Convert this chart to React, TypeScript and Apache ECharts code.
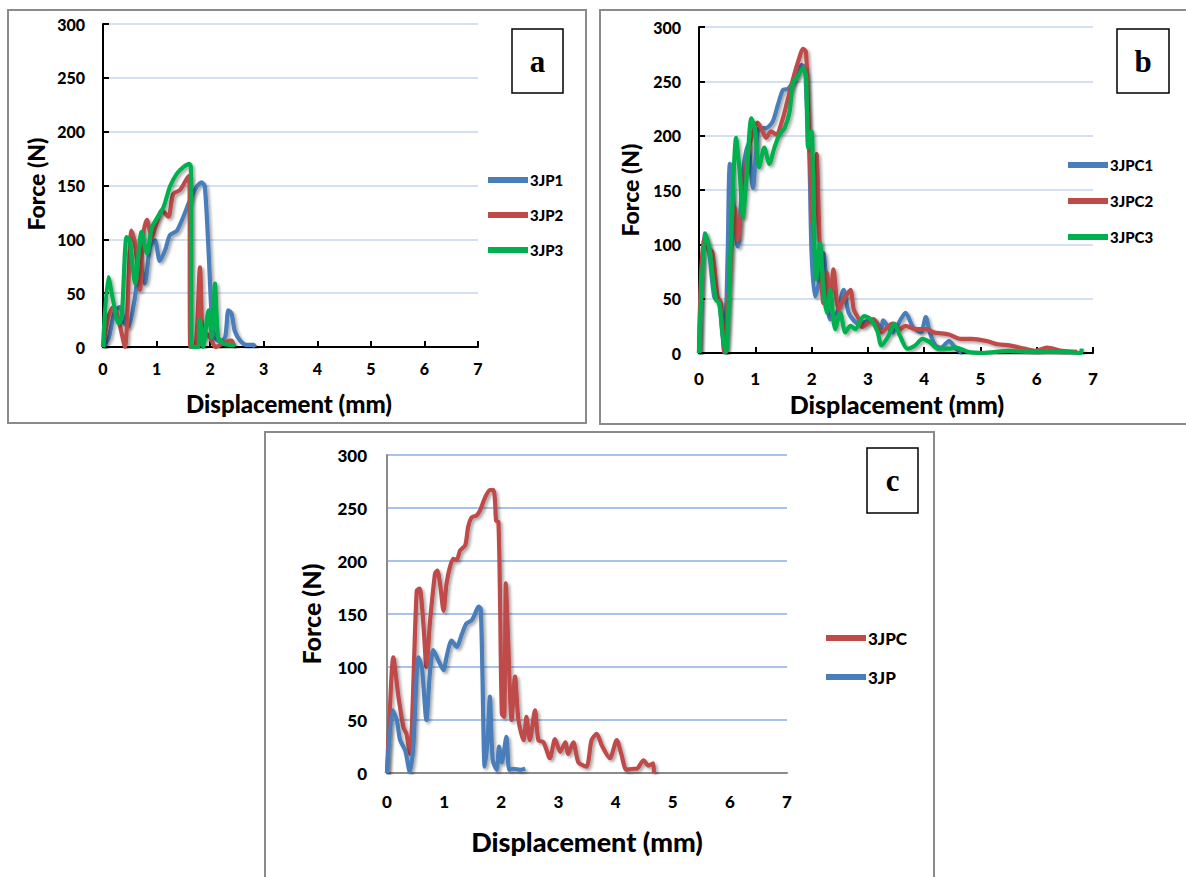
import React, { useEffect, useRef } from "react";
import * as echarts from "echarts";

// ---------- data ----------
const xTickMax = 7;
const yTickMax = 300;

// Panel a
const jp1: number[][] = [[0,0],[0.11,9],[0.22,34],[0.32,37],[0.4,22],[0.47,19],[0.59,44],[0.69,80],[0.78,59],[0.88,93],[0.97,99],[1.06,80],[1.16,90],[1.25,104],[1.38,108],[1.5,121],[1.62,136],[1.75,149],[1.84,153],[1.9,149],[1.97,90],[2.03,28],[2.09,9],[2.18,5],[2.28,9],[2.34,34],[2.4,31],[2.46,15],[2.56,6],[2.68,2],[2.81,2],[2.84,0]];
const jp2: number[][] = [[0,0],[0.1,28],[0.19,37],[0.29,25],[0.41,0],[0.53,108],[0.6,96],[0.69,53],[0.75,105],[0.82,118],[0.91,102],[1.0,115],[1.1,127],[1.22,121],[1.31,142],[1.44,146],[1.56,156],[1.61,159],[1.63,0],[1.72,0],[1.81,74],[1.87,9],[1.94,12],[2.0,9],[2.1,0],[2.3,5],[2.4,6],[2.45,0]];
const jp3: number[][] = [[0,0],[0.1,65],[0.19,43],[0.29,22],[0.35,28],[0.44,102],[0.5,99],[0.6,59],[0.72,107],[0.82,87],[0.91,111],[1.0,119],[1.13,130],[1.25,149],[1.38,161],[1.5,167],[1.61,170],[1.64,167],[1.66,0],[1.78,0],[1.81,25],[1.87,0],[1.97,34],[2.03,9],[2.09,59],[2.15,9],[2.25,3],[2.37,2],[2.46,2]];

// Panel b
const jpc1: number[][] = [[0,0],[0.09,110],[0.18,92],[0.27,52],[0.36,46],[0.45,1],[0.51,92],[0.55,174],[0.69,98],[0.78,167],[0.87,192],[0.96,152],[1.01,183],[1.07,207],[1.19,207],[1.31,213],[1.4,228],[1.49,242],[1.58,243],[1.7,252],[1.82,265],[1.88,263],[1.91,234],[1.96,183],[2.0,92],[2.06,52],[2.12,62],[2.21,92],[2.27,62],[2.33,31],[2.45,37],[2.57,58],[2.66,37],[2.83,27],[3.1,31],[3.24,22],[3.27,30],[3.44,19],[3.54,27],[3.67,37],[3.8,24],[3.94,19],[4.03,33],[4.1,19],[4.2,7],[4.3,5],[4.44,11],[4.57,4],[4.67,0]];
const jpc2: number[][] = [[0,0],[0.07,104],[0.15,98],[0.24,92],[0.33,52],[0.39,46],[0.45,1],[0.54,62],[0.63,134],[0.69,104],[0.78,152],[0.87,183],[0.96,204],[1.04,212],[1.13,204],[1.19,198],[1.28,204],[1.37,201],[1.49,216],[1.58,234],[1.67,252],[1.76,268],[1.85,280],[1.9,277],[1.94,228],[2.0,134],[2.04,107],[2.09,183],[2.15,92],[2.21,46],[2.27,74],[2.33,46],[2.39,77],[2.48,40],[2.57,49],[2.69,58],[2.75,40],[2.84,31],[2.9,24],[3.1,31],[3.24,19],[3.44,27],[3.57,22],[3.67,25],[3.84,22],[4.04,22],[4.17,19],[4.44,17],[4.64,13],[4.84,13],[5.11,11],[5.31,8],[5.51,7],[5.78,4],[5.98,2],[6.18,5],[6.45,2],[6.72,1]];
const jpc3: number[][] = [[0,0],[0.11,110],[0.18,98],[0.24,71],[0.3,49],[0.36,46],[0.42,16],[0.48,1],[0.57,107],[0.66,198],[0.72,168],[0.78,125],[0.84,158],[0.93,216],[0.99,207],[1.07,171],[1.16,189],[1.25,174],[1.34,189],[1.43,201],[1.52,207],[1.61,222],[1.67,249],[1.76,255],[1.85,262],[1.9,255],[1.94,189],[2.0,204],[2.03,152],[2.08,68],[2.15,101],[2.21,58],[2.27,37],[2.33,58],[2.42,22],[2.51,37],[2.6,19],[2.69,25],[2.78,22],[2.93,34],[3.05,31],[3.17,20],[3.24,7],[3.37,16],[3.47,27],[3.57,16],[3.7,4],[3.84,7],[3.97,13],[4.1,10],[4.24,4],[4.44,4],[4.57,5],[4.78,1],[5.04,0],[5.51,2],[5.85,1],[6.18,1],[6.52,1],[6.78,0],[6.8,4]];

// Panel c
const jpc: number[][] = [[0,0],[0.05,60],[0.11,109],[0.2,72],[0.29,43],[0.34,37],[0.4,18],[0.52,172],[0.57,174],[0.64,138],[0.69,100],[0.75,141],[0.84,188],[0.88,191],[0.93,178],[0.99,153],[1.04,178],[1.1,194],[1.16,202],[1.22,201],[1.28,210],[1.37,215],[1.42,232],[1.48,241],[1.57,243],[1.63,248],[1.71,259],[1.8,267],[1.86,267],[1.89,257],[1.91,238],[1.95,237],[1.98,157],[2.01,56],[2.05,53],[2.08,179],[2.12,125],[2.18,50],[2.24,91],[2.3,50],[2.39,31],[2.44,53],[2.5,31],[2.59,59],[2.65,31],[2.74,29],[2.85,14],[2.94,32],[3.03,20],[3.12,29],[3.17,18],[3.26,29],[3.35,10],[3.49,6],[3.58,31],[3.67,37],[3.76,26],[3.9,14],[4.02,31],[4.1,18],[4.19,3],[4.31,4],[4.37,4],[4.49,12],[4.57,7],[4.66,9],[4.67,0]];
const jp: number[][] = [[0,0],[0.1,59],[0.17,50],[0.23,31],[0.32,21],[0.4,1],[0.46,25],[0.55,109],[0.61,100],[0.69,50],[0.75,94],[0.81,116],[0.9,106],[0.99,97],[1.04,109],[1.13,125],[1.22,119],[1.31,131],[1.39,141],[1.48,144],[1.54,150],[1.6,157],[1.64,155],[1.67,94],[1.71,6],[1.76,31],[1.8,72],[1.85,12],[1.92,3],[1.96,25],[2.01,10],[2.09,34],[2.14,3],[2.21,4],[2.33,3],[2.42,4]];

const namesA = ["3JP1", "3JP2", "3JP3"];
const namesB = ["3JPC1", "3JPC2", "3JPC3"];
const namesC = ["3JPC", "3JP"];

const BLUE = "#4a7ebb";
const RED = "#be4b48";
const GREEN = "#00b050";
const FONT = "Lato, 'Open Sans', sans-serif";
const WEIGHT = 900;

function xAxisCfg(grid: number, kind: "ab" | "c", margin: number, fontSize: number) {
  const lineColor = kind === "c" ? "#8a8a8a" : "#000";
  return {
    type: "value" as const,
    gridIndex: grid,
    min: 0,
    max: xTickMax,
    interval: 1,
    axisLine: { show: true, onZero: false, lineStyle: { color: lineColor, width: 2 } },
    axisTick: { show: kind !== "c", inside: true, length: 6, lineStyle: { color: "#000", width: 2 } },
    splitLine: { show: false },
    axisLabel: { color: "#000", fontFamily: FONT, fontWeight: WEIGHT, fontSize, margin },
  };
}

function yAxisCfg(grid: number, kind: "ab" | "c", margin: number, fontSize: number) {
  const lineColor = kind === "c" ? "#8a8a8a" : "#000";
  return {
    type: "value" as const,
    gridIndex: grid,
    min: 0,
    max: yTickMax,
    interval: 50,
    axisLine: { show: true, onZero: false, lineStyle: { color: lineColor, width: 2 } },
    axisTick: { show: kind !== "c", inside: true, length: 6, lineStyle: { color: "#000", width: 2 } },
    splitLine: { show: true, lineStyle: { color: kind === "c" ? "#a9c2ea" : "#d2e0f1", width: 2 } },
    axisLabel: { color: "#000", fontFamily: FONT, fontWeight: WEIGHT, fontSize, margin },
  };
}

function lineSeries(name: string, data: number[][], color: string, idx: number) {
  return {
    name,
    type: "line" as const,
    xAxisIndex: idx,
    yAxisIndex: idx,
    data,
    showSymbol: false,
    smooth: 0.25,
    color,
    lineStyle: {
      color,
      width: 4.2,
      shadowColor: "rgba(0,0,0,0.35)",
      shadowBlur: 3,
      shadowOffsetX: 2,
      shadowOffsetY: 2,
    },
    emphasis: { disabled: true },
  };
}

function legendCfg(names: string[], left: number, top: number, gap: number, fontSize: number) {
  return {
    orient: "vertical" as const,
    left,
    top,
    data: names,
    icon: "rect",
    itemWidth: 40,
    itemHeight: 6,
    itemGap: gap,
    textStyle: { color: "#000", fontFamily: FONT, fontWeight: WEIGHT, fontSize, lineHeight: 18, padding: [0, 0, 0, -3] },
    padding: 0,
  };
}

function boxWithLetter(x: number, y: number, w: number, h: number, letter: string) {
  return [
    { type: "rect", shape: { x, y, width: w, height: h }, style: { fill: "#fff", stroke: "#000", lineWidth: 1.5 }, z: 10 },
    {
      type: "text",
      x: x + w / 2,
      y: y + h / 2,
      style: { text: letter, fill: "#000", font: "bold 31px 'Liberation Serif', serif", textAlign: "center", textVerticalAlign: "middle" },
      z: 11,
    },
  ];
}

function axisTitle(x: number, y: number, text: string, size: number, rotate: boolean) {
  return {
    type: "text",
    x,
    y,
    rotation: rotate ? Math.PI / 2 : 0,
    style: { text, fill: "#000", font: `${WEIGHT} ${size}px ${FONT}`, textAlign: "center", textVerticalAlign: "middle" },
    z: 5,
  };
}

const option = {
  animation: false,
  backgroundColor: "#fff",
  grid: [
    { left: 103, top: 24, width: 375, height: 323 },
    { left: 699, top: 27, width: 394, height: 326 },
    { left: 387, top: 455, width: 400, height: 318 },
  ],
  xAxis: [xAxisCfg(0, "ab", 13, 16), xAxisCfg(1, "ab", 17, 17), xAxisCfg(2, "c", 20, 17)],
  yAxis: [yAxisCfg(0, "ab", 18, 16), yAxisCfg(1, "ab", 18, 16), yAxisCfg(2, "c", 20, 17)],
  legend: [
    legendCfg(namesA, 488, 171, 17, 15),
    legendCfg(namesB, 1068, 156, 18, 15),
    legendCfg(namesC, 826, 629, 21, 17),
  ],
  series: [
    lineSeries(namesA[0], jp1, BLUE, 0),
    lineSeries(namesA[1], jp2, RED, 0),
    lineSeries(namesA[2], jp3, GREEN, 0),
    lineSeries(namesB[0], jpc1, BLUE, 1),
    lineSeries(namesB[1], jpc2, RED, 1),
    lineSeries(namesB[2], jpc3, GREEN, 1),
    lineSeries(namesC[0], jpc, RED, 2),
    lineSeries(namesC[1], jp, BLUE, 2),
  ],
  graphic: [
    { type: "rect", shape: { x: 8, y: 10, width: 578, height: 413 }, style: { fill: "none", stroke: "#8a8a8a", lineWidth: 2 }, z: 1 },
    { type: "rect", shape: { x: 600, y: 10, width: 600, height: 414 }, style: { fill: "none", stroke: "#8a8a8a", lineWidth: 2 }, z: 1 },
    { type: "rect", shape: { x: 265, y: 432, width: 669, height: 460 }, style: { fill: "none", stroke: "#8a8a8a", lineWidth: 2 }, z: 1 },
    ...boxWithLetter(512, 29, 51, 64, "a"),
    ...boxWithLetter(1117, 29, 52, 64, "b"),
    ...boxWithLetter(867, 448, 51, 65, "c"),
    axisTitle(36, 184, "Force (N)", 23, true),
    axisTitle(630, 190, "Force (N)", 23, true),
    axisTitle(311, 614, "Force (N)", 25, true),
    axisTitle(289, 403, "Displacement (mm)", 24, false),
    axisTitle(897, 404, "Displacement (mm)", 25, false),
    axisTitle(587, 841, "Displacement (mm)", 27, false),
  ],
};

export default function App() {
  const ref = useRef<HTMLDivElement>(null);
  useEffect(() => {
    if (!ref.current) return;
    const chart = echarts.init(ref.current, null, { renderer: "svg" });
    chart.setOption(option as any);
    return () => chart.dispose();
  }, []);
  return <div ref={ref} style={{ position: "absolute", left: 0, top: 0, width: 1186, height: 877 }} />;
}
